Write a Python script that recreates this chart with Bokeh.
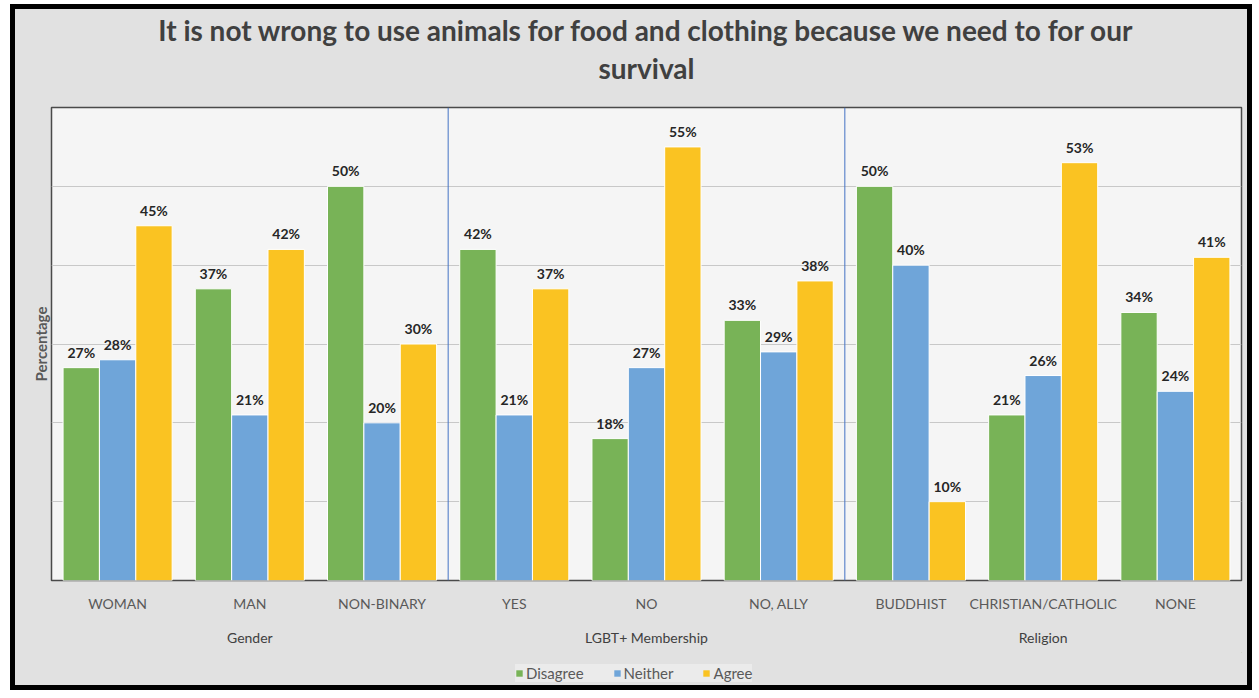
from bokeh.plotting import figure
from bokeh.layouts import column
from bokeh.models import ColumnDataSource, FactorRange, Span, Legend, LegendItem, FixedTicker, Title
from bokeh.transform import dodge
from bokeh.core.properties import value
from bokeh.embed import file_html
from bokeh.resources import INLINE

groups = ["Gender"] * 3 + ["LGBT+ Membership"] * 3 + ["Religion"] * 3
categories = ["WOMAN", "MAN", "NON-BINARY", "YES", "NO", "NO, ALLY",
              "BUDDHIST", "CHRISTIAN/CATHOLIC", "NONE"]
disagree = [27, 37, 50, 42, 18, 33, 50, 21, 34]
neither = [28, 21, 20, 21, 27, 29, 40, 26, 24]
agree = [45, 42, 30, 37, 55, 38, 10, 53, 41]
series = ["Disagree", "Neither", "Agree"]
colors = ["#78b357", "#6fa5d9", "#fac322"]
title_line1 = "It is not wrong to use animals for food and clothing because we need to for our"
title_line2 = "survival"

FONT = "Lato"
BG = "#e1e1e1"
factors = list(zip(groups, categories))
x_range = FactorRange(*factors, factor_padding=0, group_padding=0, range_padding=0)

p = figure(x_range=x_range, y_range=(0, 60), frame_width=1190, frame_height=473,
           output_backend="svg", toolbar_location=None,
           min_border_left=36, min_border_right=6, min_border_top=98, min_border_bottom=72)

p.background_fill_color = "#f5f5f5"
p.border_fill_color = BG
p.outline_line_color = "#4a4a4a"
p.outline_line_width = 1.5

# invisible spacer between the frame and the second title line
spacer = Title(text=".", text_font=FONT, text_font_size="10px", text_color=BG, standoff=13)
p.add_layout(spacer, "above")
sub = Title(text=title_line2, align="center", text_font=FONT, text_font_size="28px",
            text_font_style="bold", text_color="#404040", standoff=2)
p.add_layout(sub, "above")
p.title.text = title_line1
p.title.align = "center"
p.title.text_font = FONT
p.title.text_font_size = "28px"
p.title.text_font_style = "bold"
p.title.text_color = "#404040"
p.title.standoff = 2

width = 0.275
offsets = [-width, 0, width]
vals_all = [disagree, neither, agree]
for name, col, off, vals in zip(series, colors, offsets, vals_all):
    src = ColumnDataSource(dict(x=factors, v=vals, lab=[f"{v}%" for v in vals]))
    p.vbar(x=dodge("x", off, range=x_range), top="v", width=width, source=src,
           fill_color=col, line_color="white", line_width=1)
    p.text(x=dodge("x", off, range=x_range), y="v", text="lab", source=src,
           text_align="center", text_baseline="bottom", y_offset=-7,
           text_font=value(FONT), text_font_style="bold", text_font_size="14px",
           text_color="#262626")

for loc in [3, 6]:
    p.add_layout(Span(location=loc, dimension="height", line_color="#4472c4", line_width=1))

p.xgrid.grid_line_color = None
p.ygrid.ticker = FixedTicker(ticks=[10, 20, 30, 40, 50])
p.ygrid.grid_line_color = "#c8c8c8"
p.yaxis.ticker = FixedTicker(ticks=[10, 20, 30, 40, 50])
p.yaxis.major_label_text_color = None
p.yaxis.major_label_text_font_size = "0px"
p.yaxis.major_label_standoff = 0
p.yaxis.major_tick_line_color = None
p.yaxis.major_tick_out = 0
p.yaxis.minor_tick_line_color = None
p.yaxis.minor_tick_out = 0
p.yaxis.axis_line_color = None
p.yaxis.axis_label = "Percentage"
p.yaxis.axis_label_text_font = FONT
p.yaxis.axis_label_text_font_size = "15px"
p.yaxis.axis_label_text_font_style = "bold"
p.yaxis.axis_label_text_color = "#595959"
p.yaxis.axis_label_standoff = 2

p.xaxis.axis_line_color = None
p.xaxis.major_tick_line_color = None
p.xaxis.major_tick_out = 0
p.xaxis.minor_tick_line_color = None
p.xaxis.minor_tick_out = 0
p.xaxis.separator_line_color = None
p.xaxis.major_label_text_font = FONT
p.xaxis.major_label_text_font_size = "14px"
p.xaxis.major_label_text_color = "#595959"
p.xaxis.major_label_standoff = 14
p.xaxis.group_text_font = FONT
p.xaxis.group_text_font_size = "14px"
p.xaxis.group_text_font_style = "normal"
p.xaxis.group_text_color = "#404040"

# legend strip below the chart (swatch renderers sit outside its visible range)
leg = figure(width=1232, height=33, x_range=(0, 1), y_range=(0, 1),
             output_backend="svg", toolbar_location=None,
             x_axis_type=None, y_axis_type=None, min_border=0)
leg.background_fill_color = BG
leg.border_fill_color = BG
leg.outline_line_color = None
leg.xgrid.grid_line_color = None
leg.ygrid.grid_line_color = None
items = []
for name, col in zip(series, colors):
    r = leg.vbar(x=[5], top=[5], bottom=[4], width=0.1, fill_color=col, line_color=None)
    items.append(LegendItem(label=name, renderers=[r]))
legend = Legend(items=items, orientation="horizontal", location=(464, 3),
                background_fill_color="#ebebeb", background_fill_alpha=1.0,
                border_line_color=None, label_text_font=FONT,
                label_text_font_size="15px", label_text_color="#595959",
                glyph_width=8, glyph_height=8, spacing=29, padding=6, margin=0,
                label_standoff=3)
leg.add_layout(legend, "center")

layout = column(p, leg, spacing=0, margin=(4, 0, 0, 10),
                styles={"border": "5px solid #000000", "background-color": BG})

open("out.html", "w").write(file_html(layout, INLINE))
